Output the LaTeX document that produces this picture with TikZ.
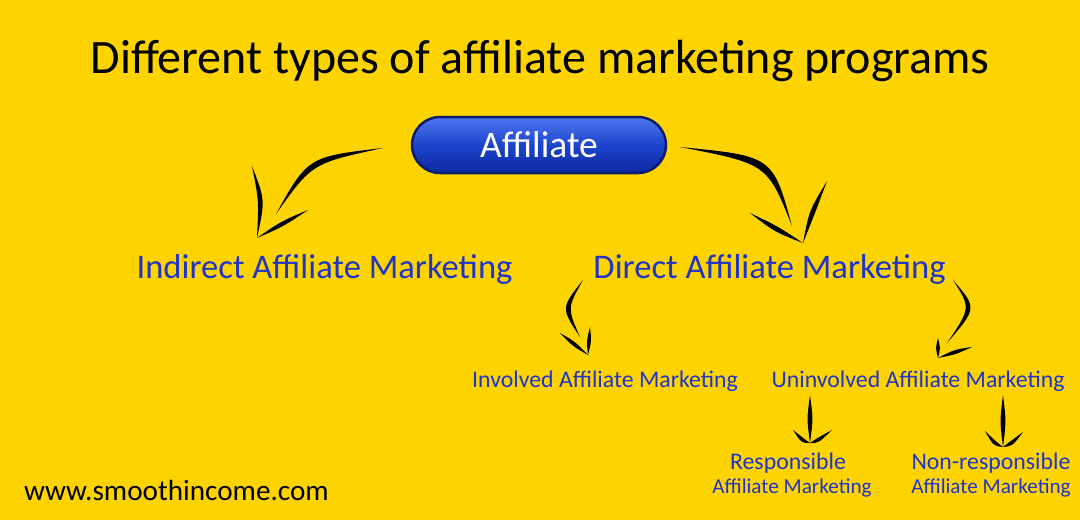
\documentclass[tikz,border=0pt]{standalone}
\usepackage{fontspec}
\setmainfont{Carlito}
\usetikzlibrary{calc}
\definecolor{bgyellow}{RGB}{253,212,0}
\definecolor{txtblue}{RGB}{32,52,200}
\definecolor{pilltop}{RGB}{80,120,240}
\definecolor{pillmid}{RGB}{28,68,205}
\definecolor{pillbot}{RGB}{14,42,160}
\definecolor{pillborder}{RGB}{12,28,110}
\newcommand\brush[4]{\fill[black] (#1) .. controls ($(#2)+(#4)$) .. (#3) .. controls ($(#2)-(#4)$) .. (#1);}
\begin{document}
\begin{tikzpicture}[x=1pt,y=-1pt,
  lbl/.style={anchor=base,inner sep=0pt,text=txtblue},
  big/.style={lbl,font=\fontsize{34.6}{38}\selectfont},
  mid/.style={lbl,font=\fontsize{23.8}{27}\selectfont},
  small/.style={lbl,font=\fontsize{21.2}{24}\selectfont},
  pill/.style={draw=pillborder,line width=2.5pt,rounded corners=28pt,
    minimum width=254pt,minimum height=56pt,inner sep=0pt,
    top color=pilltop,bottom color=pillbot,middle color=pillmid,
    text=white,font=\fontsize{37.5}{42}\selectfont}]
\fill[bgyellow] (0,0) rectangle (1080,520);
\useasboundingbox (0,0) rectangle (1080,520);

\node[anchor=base,inner sep=0pt,font=\fontsize{48}{54}\selectfont] (title) at (540,73) {Different types of affiliate marketing programs};

\node[pill] (aff) at (539,145) {Affiliate};

\node[big] (indirect) at (324.5,278) {Indirect Affiliate Marketing};
\node[big] (direct) at (769.5,278) {Direct Affiliate Marketing};

\node[mid] (involved) at (605,387) {Involved Affiliate Marketing};
\node[mid] (uninvolved) at (918,387) {Uninvolved Affiliate Marketing};

\node[mid] (resp) at (788,469) {Responsible};
\node[small] (respam) at (792,493) {Affiliate Marketing};
\node[mid] (nonresp) at (991,469) {Non-responsible};
\node[small] (nonrespam) at (991,493) {Affiliate Marketing};

\node[anchor=base,inner sep=0pt,font=\fontsize{29.2}{33}\selectfont] (www) at (176.5,500) {www.smoothincome.com};

% Affiliate -> Indirect
\brush{383,148}{310,160}{276,214}{2,3.3}
\brush{252,166}{262,200}{257,238}{3.2,0}
\brush{257,238}{282,224}{308,210}{1.3,2.5}
% Affiliate -> Direct
\brush{680,147}{770,160}{792,226}{-2.8,3.9}
\brush{827,181}{812,212}{803,243}{3,1.1}
\brush{750,213}{776,229}{803,243}{-1.6,2.8}
% Direct -> Involved
\brush{583,280}{564,308}{580,337}{3.2,0}
\brush{560,333}{574,344}{588,355}{-1.6,2}
\brush{590,327}{589,341}{588,355}{2.5,0}
% Direct -> Uninvolved
\brush{953,280}{974,308}{947,343}{3.2,0}
\brush{938,338}{938,348}{938,358}{2.5,0}
\brush{938,358}{955,352}{972,347}{0.8,2.4}
% Uninvolved -> Responsible
\brush{810,395}{810,419}{810,443}{3.2,0}
\brush{793,430}{803,441}{810,443}{-1.5,2}
\brush{832,430}{817,441}{810,443}{1.5,2}
% Uninvolved -> Non-responsible
\brush{1003,395}{1003,421}{1003,447}{3.2,0}
\brush{985,431}{995,444}{1003,447}{-1.5,2}
\brush{1023,432}{1011,444}{1003,447}{1.5,2}
\end{tikzpicture}
\end{document}
